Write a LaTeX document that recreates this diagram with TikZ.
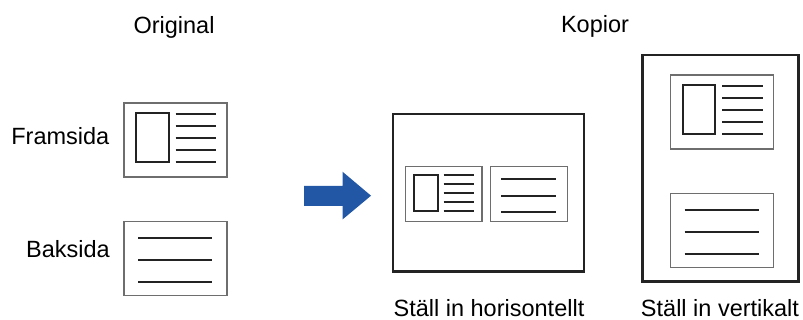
\documentclass[tikz,border=0pt]{standalone}
\usepackage{fontspec}
\setmainfont{Liberation Sans}
\definecolor{arrowblue}{RGB}{33,87,165}
\definecolor{inkdark}{RGB}{35,35,35}
\definecolor{cardgray}{RGB}{110,110,110}
\tikzset{
  cardframe/.style={draw=cardgray, line width=1.1pt, fill=white},
  photo/.style={draw=inkdark, line width=2pt},
  textline/.style={draw=inkdark, line width=2pt},
  pageframe/.style={draw=inkdark, line width=2.4pt, fill=white},
  label/.style={font=\fontsize{23.5}{28}\selectfont, text=black, inner sep=0pt},
  pics/frontcard/.style={code={
    \draw[cardframe] (0,0) rectangle (103,74);
    \draw[photo] (12,10.5) rectangle (44.5,59.5);
    \foreach \yy in {11,23.5,35,47.5,59}{\draw[textline] (51.5,\yy) -- (92,\yy);}
  }},
  pics/backcard/.style={code={
    \draw[cardframe] (0,0) rectangle (103,74);
    \foreach \yy in {17,39,61}{\draw[textline] (14,\yy) -- (88,\yy);}
  }}
}
\begin{document}
\begin{tikzpicture}[x=1pt,y=-1pt]
\useasboundingbox (0,0) rectangle (803,320);
% headings
\node[label, anchor=base] (horig) at (174,34) {Original};
\node[label, anchor=base] (hcopy) at (595,33) {Kopior};
% originals
\pic at (124,103) {frontcard};
\pic at (124,221.5) {backcard};
\node[label, anchor=base east] (lfront) at (109.5,145) {Framsida};
\node[label, anchor=base east] (lback) at (110,258) {Baksida};
% arrow
\fill[arrowblue] (304,186) -- (342.5,186) -- (342.5,171.7) -- (371,195.7)
  -- (342.5,219.5) -- (342.5,206) -- (304,206) -- cycle;
% horizontal copy
\draw[pageframe] (393,114) rectangle (584,271.5);
\pic[scale=0.745] at (405.3,166.7) {frontcard};
\pic[scale=0.745] at (490.7,166.7) {backcard};
\node[label, anchor=base] (lhor) at (489,316.5) {Ställ in horisontellt};
% vertical copy
\draw[pageframe] (642.3,55) rectangle (798.5,281.5);
\pic at (670.7,75) {frontcard};
\pic at (670.7,193.3) {backcard};
\node[label, anchor=base] (lver) at (720,316.5) {Ställ in vertikalt};
\end{tikzpicture}
\end{document}
